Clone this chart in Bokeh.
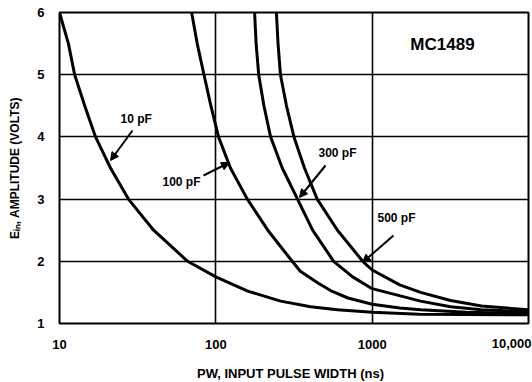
import math
from bokeh.plotting import figure
from bokeh.models import FixedTicker, Label, Arrow, NormalHead
from bokeh.embed import file_html
from bokeh.resources import INLINE

# ---- data ----
pw_10pf = [10, 11.4, 12.5, 14.5, 17, 21.2, 27.6, 40, 66, 100, 160, 260, 404, 600, 1000, 2000, 10000]
ein_10pf = [6.0, 5.5, 5.0, 4.5, 4.0, 3.5, 3.0, 2.5, 2.0, 1.75, 1.52, 1.36, 1.27, 1.22, 1.18, 1.15, 1.14]

pw_100pf = [70, 76, 84, 93, 104, 124, 159, 215, 308, 347, 450, 542, 700, 1000, 1500, 2040, 4000, 10000]
ein_100pf = [6.0, 5.5, 5.0, 4.5, 4.0, 3.5, 3.0, 2.5, 2.0, 1.84, 1.65, 1.53, 1.41, 1.31, 1.25, 1.22, 1.18, 1.16]

pw_300pf = [177, 181, 188, 203, 224, 266, 333, 416, 567, 750, 1000, 2040, 3170, 5000, 10000]
ein_300pf = [6.0, 5.5, 5.0, 4.5, 4.0, 3.5, 3.0, 2.5, 2.0, 1.75, 1.56, 1.36, 1.27, 1.22, 1.19]

pw_500pf = [244, 250, 259, 283, 316, 369, 445, 600, 870, 1000, 1500, 2040, 3170, 5000, 10000]
ein_500pf = [6.0, 5.5, 5.0, 4.5, 4.0, 3.5, 3.0, 2.5, 2.0, 1.86, 1.62, 1.50, 1.37, 1.28, 1.22]

x_ticks = [10, 100, 1000, 10000]
x_tick_labels = ["10", "100", "1000", "10,000"]
y_ticks = [1, 2, 3, 4, 5, 6]

FONT = "Liberation Sans"

W, H = 532, 382
ML, MR, MT, MB = 59, 4, 12, 59
p = figure(width=W, height=H, x_axis_type="log", x_range=(10, 10000), y_range=(1, 6),
           output_backend="svg", toolbar_location=None,
           min_border_left=ML, min_border_right=MR, min_border_top=MT, min_border_bottom=MB)

FW = W - ML - MR
FH = H - MT - MB
X0 = ML
Y0 = MT + FH


def xd(px):
    return 10 ** (1 + (px - X0) / (FW / 3.0))


def yd(py):
    return 1 + (Y0 - py) / (FH / 5.0)


p.background_fill_color = "white"
p.border_fill_color = "white"
p.outline_line_color = "black"
p.outline_line_width = 2

p.xgrid.ticker = FixedTicker(ticks=x_ticks[1:3])
p.ygrid.ticker = FixedTicker(ticks=y_ticks[1:5])
for g in (p.xgrid, p.ygrid):
    g.grid_line_color = "black"
    g.grid_line_width = 1.6
    g.grid_line_alpha = 1.0

p.xaxis.ticker = FixedTicker(ticks=x_ticks[:3])
p.xaxis.major_label_overrides = {t: l for t, l in zip(x_ticks[:3], x_tick_labels[:3])}
p.yaxis.ticker = FixedTicker(ticks=y_ticks)
for ax in (p.xaxis, p.yaxis):
    ax.axis_line_color = None
    ax.major_tick_line_color = None
    ax.minor_tick_line_color = None
    ax.major_label_text_font = FONT
    ax.major_label_text_font_style = "bold"
    ax.major_label_text_font_size = "13px"
    ax.major_label_text_color = "black"
p.xaxis.major_label_standoff = 10
p.yaxis.major_label_standoff = 9

p.yaxis.axis_label = "E\u1d62\u2099, AMPLITUDE (VOLTS)"
p.yaxis.axis_label_text_font = FONT
p.yaxis.axis_label_text_font_style = "bold"
p.yaxis.axis_label_text_font_size = "12px"
p.yaxis.axis_label_standoff = 12
p.yaxis.axis_label_text_color = "black"

# curves
for xs, ys in ((pw_10pf, ein_10pf), (pw_100pf, ein_100pf), (pw_300pf, ein_300pf), (pw_500pf, ein_500pf)):
    p.line(xs, ys, line_color="black", line_width=3, line_join="round", line_cap="round")

# last x tick label (kept inside the window) and x axis title, in the bottom panel
p.add_layout(Label(x=x_ticks[-1], y=y_ticks[0], text=x_tick_labels[-1], text_align="right",
                   text_baseline="middle", x_offset=3, y_offset=-20, text_font=FONT,
                   text_font_style="bold", text_font_size="13px", text_color="black"), "below")
p.add_layout(Label(x=xd(290), y=y_ticks[0], text="PW, INPUT PULSE WIDTH (ns)", text_align="center",
                   text_baseline="middle", y_offset=-50, text_font=FONT,
                   text_font_style="bold", text_font_size="13px", text_color="black"), "below")

# title
p.add_layout(Label(x=xd(442), y=yd(44), text="MC1489", text_font=FONT,
                   text_font_style="bold", text_font_size="17px", text_color="black",
                   text_align="center", text_baseline="middle"))

# curve labels and arrows
lbl = dict(text_font=FONT, text_font_style="bold", text_font_size="12px", text_color="black",
           text_baseline="middle")
p.add_layout(Label(x=xd(120), y=yd(118), text="10 pF", text_align="left", **lbl))
p.add_layout(Label(x=xd(200), y=yd(181), text="100 pF", text_align="right", **lbl))
p.add_layout(Label(x=xd(318), y=yd(152), text="300 pF", text_align="left", **lbl))
p.add_layout(Label(x=xd(377), y=yd(217), text="500 pF", text_align="left", **lbl))

arrows = [((132, 130), (110, 160)), ((203, 175), (229, 162)), ((325, 165), (299, 197)), ((393, 235), (362, 262))]
for (x1, y1), (x2, y2) in arrows:
    p.add_layout(Arrow(end=NormalHead(size=8, fill_color="black", line_color="black", line_width=1),
                       x_start=xd(x1), y_start=yd(y1), x_end=xd(x2), y_end=yd(y2),
                       line_color="black", line_width=2))

open("out.html", "w").write(file_html(p, INLINE))
